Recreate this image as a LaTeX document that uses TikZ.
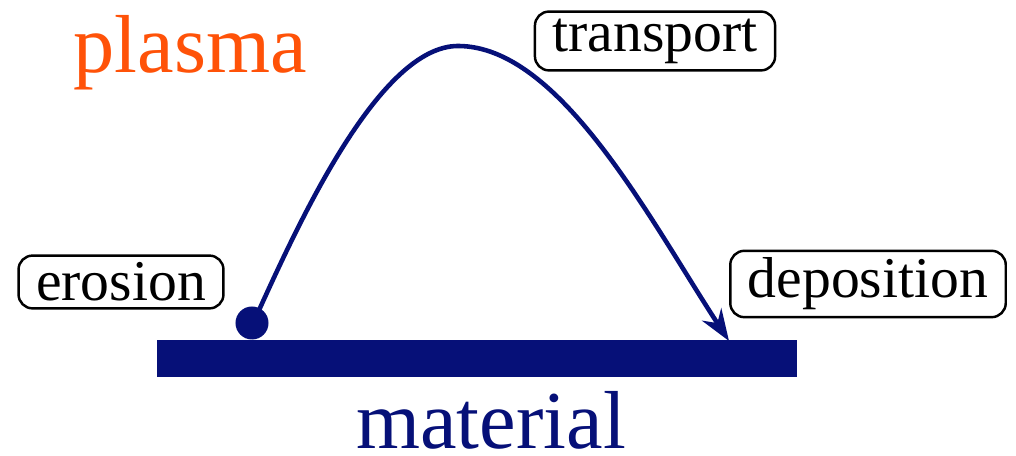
\documentclass[tikz,border=0pt]{standalone}
\usepackage{fontspec}
\setmainfont{Liberation Serif}
\usetikzlibrary{arrows.meta}

\definecolor{navy}{RGB}{6,16,120}
\definecolor{plasmaorange}{RGB}{255,82,8}

\tikzset{
  tag/.style={draw, rounded corners=4pt, line width=0.7pt, inner xsep=5pt, inner ysep=2pt,
    font=\fontsize{16.4}{18}\selectfont},
  bigword/.style={anchor=base, inner sep=0pt, font=\fontsize{23.4}{26}\selectfont}
}

\begin{document}
\begin{tikzpicture}[x=0.01cm, y=-0.01cm, >=Stealth]
            \useasboundingbox (0,0) rectangle (1016,456);

            \fill[navy] (157,340) rectangle (797,377);
            \node[circle, fill=navy, minimum size=0.33cm, inner sep=0pt] (start) at (252,323) {};
            \coordinate (land) at (729,341);
            \coordinate (top) at (458,46);
            \draw[->, navy, line width=1.3pt, shorten <=-1pt, >={Stealth[length=9pt, width=6.5pt]}]
                (start.62) .. controls (300,220) and (380,46) .. (top)
                .. controls (560,46) and (650,220) .. (land);

            \node[bigword, text=plasmaorange] (plasma) at (190,73) {plasma};
            \node[bigword, text=navy] (material) at (491,449) {material};

            \node[tag] (erosion) at (121,282) {erosion};
            \node[tag] (transport) at (655,41) {transport};
            \node[tag] (deposition) at (868,284) {deposition};
        \end{tikzpicture}
\end{document}
